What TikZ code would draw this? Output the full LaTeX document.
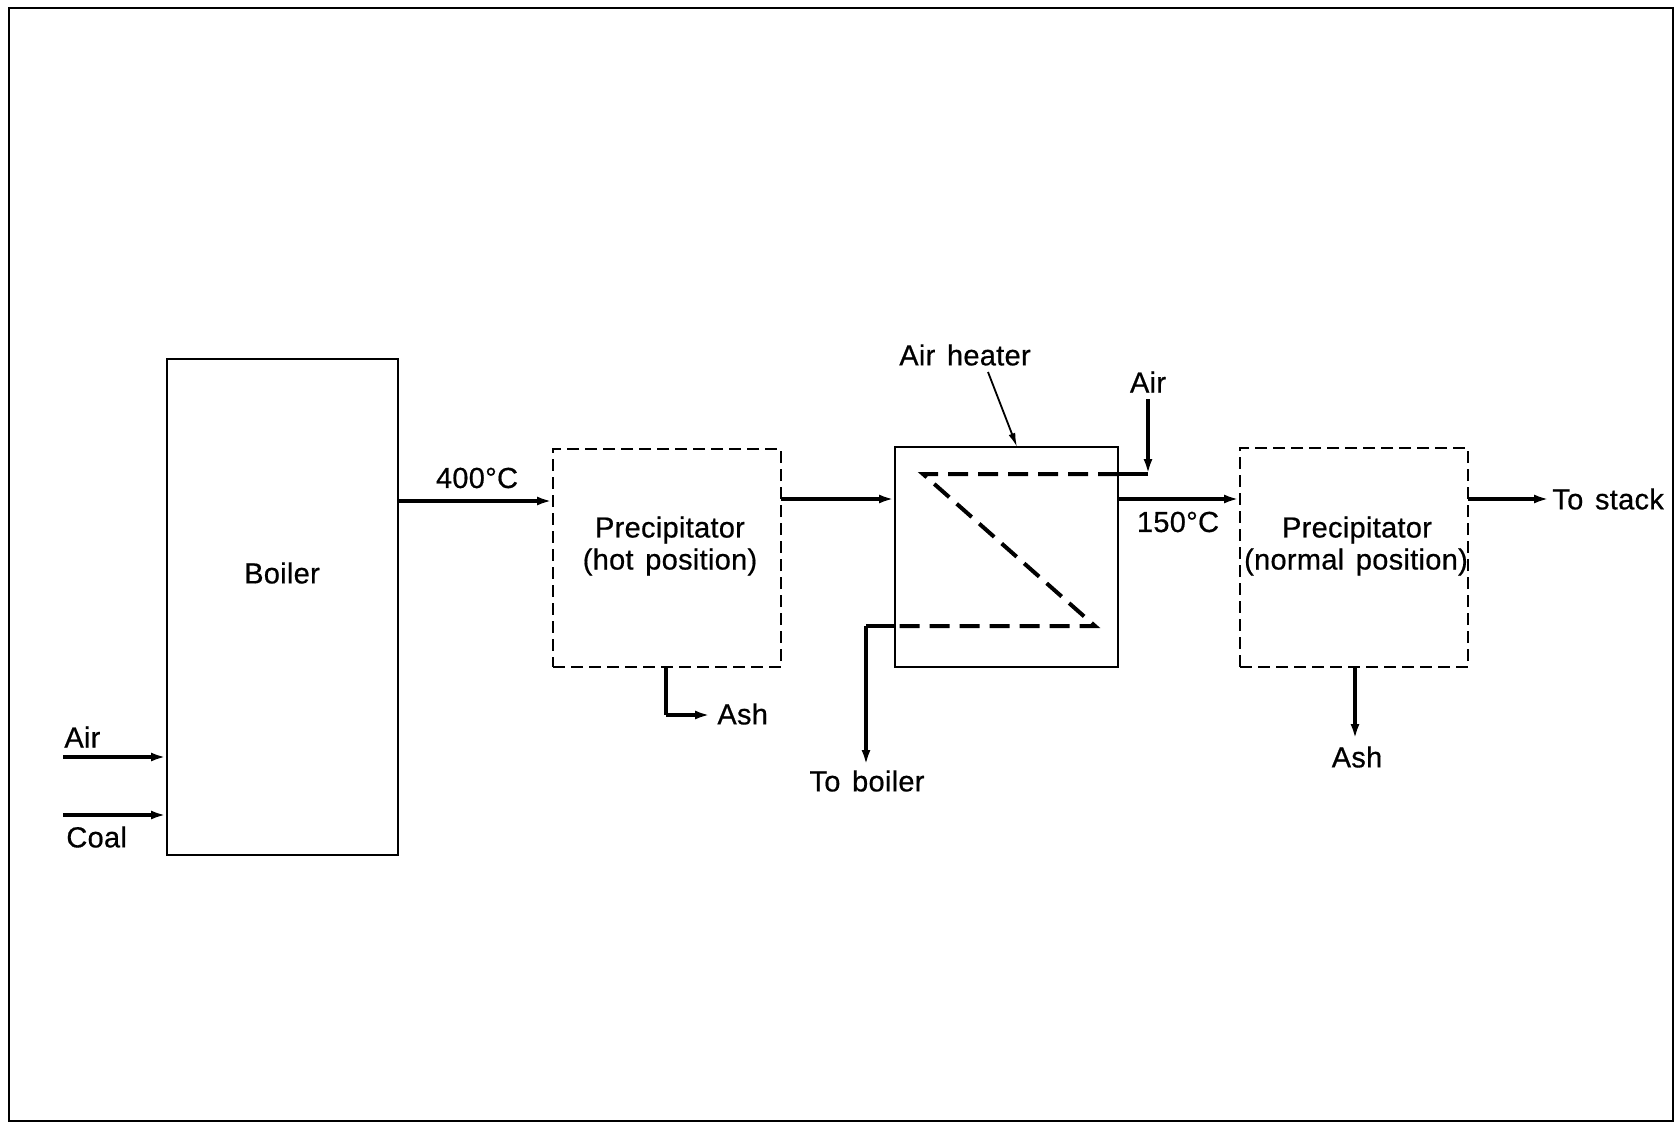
\documentclass[tikz,border=0pt]{standalone}
\usepackage{fontspec}
\setmainfont{Liberation Sans}[LetterSpace=1, WordSpace=1.4, FakeBold=0.6]
\usetikzlibrary{arrows.meta}
\begin{document}
\begin{tikzpicture}[x=0.5pt,y=-0.5pt,
  lbl/.style={font=\fontsize{14.5}{17}\selectfont, inner sep=0pt},
  solidbox/.style={draw, line width=1pt},
  dashbox/.style={draw, line width=1pt, dash pattern=on 6pt off 3pt},
  flow/.style={line width=2pt, -{Latex[length=7.5pt,width=4.5pt]}},
  pipe/.style={line width=2pt},
  coil/.style={line width=2pt, dash pattern=on 10pt off 5pt, line join=miter},
  leader/.style={line width=0.9pt, -{Latex[length=7pt,width=3.5pt]}}]
\useasboundingbox (0,0) rectangle (1676,1123);
\draw[line width=1pt] (9,8) rectangle (1673,1121);
% boxes
\node[solidbox, minimum width=231pt/2, minimum height=496pt/2] (boiler) at (282.5,607) {};
\node[lbl] (boilerT) at (282,573) {Boiler};
\node[dashbox, minimum width=228pt/2, minimum height=218pt/2] (hot) at (667,558) {};
\node[lbl] (hotT1) at (670,530) {Precipitator};
\node[lbl] (hotT2) at (670,562) {(hot position)};
\node[solidbox, minimum width=223pt/2, minimum height=220pt/2] (heat) at (1006.5,557) {};
\node[dashbox, minimum width=228pt/2, minimum height=219pt/2] (norm) at (1354,557.5) {};
\node[lbl] (normT1) at (1357,530) {Precipitator};
\node[lbl] (normT2) at (1356,562) {(normal position)};
% inputs to boiler
\coordinate (airS) at (63,757);
\coordinate (coalS) at (63,815);
\draw[flow] (airS) -- (airS -| boiler.west);
\draw[flow] (coalS) -- (coalS -| boiler.west);
\node[lbl, anchor=west] (airL) at (64,737) {Air};
\node[lbl, anchor=west] (coalL) at (66,837) {Coal};
% main flow
\coordinate (b1) at (398,501);
\draw[flow] (b1) -- (b1 -| hot.west);
\node[lbl] (t400) at (477,478) {400°C};
\coordinate (h1) at (781,499);
\draw[flow] (h1) -- (h1 -| heat.west);
\coordinate (a1) at (1118,499);
\draw[flow] (a1) -- (a1 -| norm.west);
\node[lbl] (t150) at (1178,522) {150°C};
\coordinate (n1) at (1468,499);
\coordinate (stackE) at (1549,499);
\draw[flow] (n1) -- (stackE);
\node[lbl, anchor=west] (stackL) at (1552,499) {To stack};
% ash outlets
\coordinate (ash1a) at (666,667);
\coordinate (ash1b) at (666,715);
\coordinate (ash1c) at (710,715);
\draw[pipe] (ash1a) -- (ash1b);
\draw[flow] (ash1b) -- (ash1c);
\node[lbl, anchor=west] (ashL1) at (717,714) {Ash};
\coordinate (ash2a) at (1355,667);
\coordinate (ash2b) at (1355,739);
\draw[flow] (ash2a) -- (ash2b);
\node[lbl] (ashL2) at (1357,757) {Ash};
% air heater coil
\node[lbl] (airH) at (965,355) {Air heater};
\coordinate (ldS) at (988,372);
\coordinate (ldE) at (1017,447);
\draw[leader] (ldS) -- (ldE);
\node[lbl] (airT) at (1148,382) {Air};
\coordinate (airTop) at (1148,399);
\coordinate (airC) at (1148,474);
\coordinate (airIn) at (1118,474);
\coordinate (c1) at (923,474);
\coordinate (c2) at (1095,626);
\coordinate (c3) at (895,626);
\coordinate (c4) at (866,626);
\coordinate (c5) at (866,765);
\draw[flow] (airTop) -- (airC);
\draw[pipe] (airC) -- (airIn);
\draw[coil] (airIn) -- (c1) -- (c2) -- (c3);
\draw[pipe] (c3) -- (c4);
\draw[flow] (c4) -- (c5);
\node[lbl] (boilL) at (867,781) {To boiler};
\end{tikzpicture}
\end{document}
